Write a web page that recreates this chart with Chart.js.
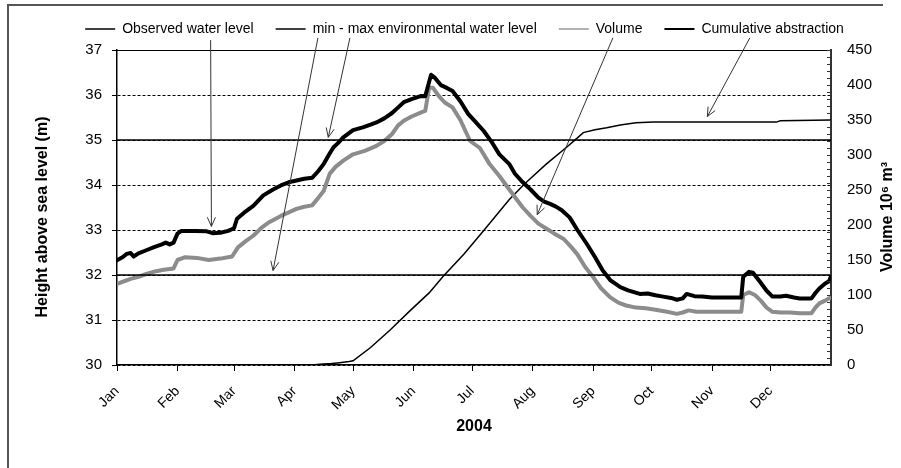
<!DOCTYPE html>
<html><head><meta charset="utf-8">
<script src="https://cdn.jsdelivr.net/npm/chart.js@4.4.0/dist/chart.umd.min.js"></script>
<style>html,body{margin:0;padding:0;background:#fff;}#wrap{width:901px;height:468px;position:relative;}</style>
</head><body><div id="wrap"><canvas id="c" width="901" height="468"></canvas></div>
<script>
// ---- data ----
const yearLabel = '2004';
const daysInYear = 366;
const monthLabels = ['Jan','Feb','Mar','Apr','May','Jun','Jul','Aug','Sep','Oct','Nov','Dec'];
const monthStartDays = [0,31,60,91,121,152,182,213,244,274,305,335];
const levelTicks = [30,31,32,33,34,35,36,37];
const volumeTicks = [0,50,100,150,200,250,300,350,400,450];

const levelDays =   [0,3,5,7,8.5,11,15,19,23,25,27,29,31,33,40,46,49,53,57,60,61.5,65,70,75,80,84,88,92,96,100,103,106,109,111,113,116,121,126,130,133,137,141,144,147,151,156,158,161,163,166,168,172,176,180,184,188,192,196,201,204,208,212,216,219,222,225,228,232,236,240.7,245,249,253,258,262,265,268,272,276,280,284,287,290,292,296,300,305,312,320,321,324,326,329.6,333,336,340,343,347,350,356,358,360,363,365,366];
const levelValues = [32.33,32.40,32.47,32.49,32.41,32.48,32.55,32.62,32.68,32.72,32.68,32.72,32.92,32.98,32.98,32.97,32.93,32.94,32.98,33.04,33.25,33.38,33.54,33.77,33.90,33.99,34.06,34.10,34.14,34.16,34.30,34.47,34.70,34.84,34.92,35.06,35.22,35.28,35.34,35.39,35.48,35.60,35.72,35.84,35.91,35.98,35.97,36.45,36.38,36.22,36.18,36.09,35.86,35.58,35.39,35.20,34.96,34.68,34.47,34.25,34.06,33.90,33.72,33.63,33.58,33.52,33.44,33.28,33.00,32.70,32.40,32.10,31.88,31.73,31.66,31.62,31.58,31.59,31.55,31.52,31.49,31.45,31.48,31.58,31.53,31.52,31.50,31.50,31.50,31.96,32.07,32.05,31.85,31.65,31.52,31.52,31.54,31.50,31.48,31.48,31.60,31.70,31.81,31.86,31.97];

const envLevels = [32, 35];

const volumeDays =   [0,4,7,11,15,20,24,29,31,35,41,47,53,59,62,66,70,74,78,84,92,96,100,103,106,109,112,116,121,127,133,137,141,144,147,151,156,158,160,162,165,168,172,176,181,186,191,196,201,205,208,212,216,220,224,229,233,236,240,244,248,252.7,257,261,266,271,276,282,287,290,293,297,302,310,320,321,324,327,330,333,336,340,345,350,356,358,360,363,366];
const volumeValues = [116,120,123,126,130,134,136,138,150,154,153,150,152,155,168,177,185,196,204,213,223,226,228,238,249,273,283,292,301,306,313,320,330,342,349,355,361,363,396,396,384,375,368,350,320,310,287,270,251,236,225,213,202,195,188,180,168,158,140,126,110,97,89,85,82,81,79,76,73,75,78,76,76,76,76,100,104,100,92,82,76,75,75,74,74,82,88,92,97];

const abstractionDays =   [0,100,104,110,113,119,121,130,140,150,160,167,178,188,201,209,220,230,235,239,245,251,258,266,275,338,340,366];
const abstractionValues = [0,0,1,2,3,5,6,25,50,77,103,126,159,192,236,259,287,310,322,332,336,339,343,346,347,347,349,350];

const seriesNames = ['Observed water level','min - max environmental water level','Volume','Cumulative abstraction'];

// ---- helpers ----
const FONT = "'Liberation Sans', Arial, sans-serif";
const pts = (xs, ys) => xs.map((x, i) => ({x, y: ys[i]}));
const envData = [];
envLevels.forEach((lv, i) => {
  if (i > 0) envData.push({x: daysInYear, y: null});
  envData.push({x: 0, y: lv}, {x: daysInYear, y: lv});
});

// annotation arrows, defined in chart data coordinates (day of year, height on left axis)
const arrowDefs = [
  {from:[48.0,37.22], to:[48.4,33.08]},
  {from:[103.0,37.27], to:[80.0,32.10]},
  {from:[119.4,37.27], to:[108.3,35.06]},
  {from:[254.2,37.27], to:[215.4,33.34]},
  {from:[324.4,37.27], to:[302.6,35.52]}
];

const decorPlugin = {
  id: 'decor',
  afterInit(chart) {
    const lg = chart.legend;
    if (lg) {
      const f = lg.fit.bind(lg);
      lg.fit = function () { f(); this.height += 4; };
    }
  },
  afterDatasetsDraw(chart) {
    const {ctx, chartArea: ca, scales} = chart;
    const xs = scales.x, ys = scales.y, y1 = scales.y1;
    ctx.save();
    ctx.strokeStyle = '#000'; ctx.lineWidth = 1; ctx.setLineDash([]);
    const topY = Math.round(ys.getPixelForValue(levelTicks[levelTicks.length - 1])) + 0.5;
    ctx.beginPath(); ctx.moveTo(ca.left, topY); ctx.lineTo(ca.right, topY); ctx.stroke();
    ctx.strokeStyle = '#333'; ctx.lineWidth = 1;
    for (let v = volumeTicks[0]; v <= volumeTicks[volumeTicks.length - 1]; v += 10) {
      const py = Math.round(y1.getPixelForValue(v)) + 0.5;
      ctx.beginPath(); ctx.moveTo(ca.right - 4, py); ctx.lineTo(ca.right, py); ctx.stroke();
    }
    ctx.strokeStyle = '#333'; ctx.lineWidth = 1;
    arrowDefs.forEach(a => {
      const x0 = xs.getPixelForValue(a.from[0]), yy0 = ys.getPixelForValue(a.from[1]);
      const x1 = xs.getPixelForValue(a.to[0]), yy1 = ys.getPixelForValue(a.to[1]);
      ctx.beginPath(); ctx.moveTo(x0, yy0); ctx.lineTo(x1, yy1); ctx.stroke();
      const ang = Math.atan2(yy1 - yy0, x1 - x0), L = 10, w = 0.42;
      ctx.beginPath();
      ctx.moveTo(x1 - L * Math.cos(ang - w), yy1 - L * Math.sin(ang - w));
      ctx.lineTo(x1, yy1);
      ctx.lineTo(x1 - L * Math.cos(ang + w), yy1 - L * Math.sin(ang + w));
      ctx.stroke();
    });
    ctx.restore();
  },
  afterDraw(chart) {
    const {ctx} = chart;
    ctx.save();
    ctx.fillStyle = '#000';
    ctx.font = "bold 16px " + FONT;
    ctx.textAlign = 'center'; ctx.textBaseline = 'middle';
    ctx.save(); ctx.translate(43, 217); ctx.rotate(-Math.PI / 2);
    ctx.fillText('Height above sea level (m)', 0, 0); ctx.restore();
    ctx.save(); ctx.translate(888, 217); ctx.rotate(-Math.PI / 2);
    ctx.fillText('Volume 10\u2076 m\u00B3', 0, 0); ctx.restore();
    ctx.strokeStyle = '#555'; ctx.lineWidth = 2;
    ctx.beginPath(); ctx.moveTo(883, 5); ctx.lineTo(8, 5); ctx.lineTo(8, 468); ctx.stroke();
    ctx.restore();
  }
};

const legendWidths = [1.5, 1.5, 1.5, 2];

new Chart(document.getElementById('c'), {
  type: 'line',
  data: {
    datasets: [
      {label: seriesNames[0], data: pts(levelDays, levelValues), yAxisID: 'y', borderColor: '#000', borderWidth: 4, pointRadius: 0, borderJoinStyle: 'round', borderCapStyle: 'round'},
      {label: seriesNames[1], data: envData, yAxisID: 'y', borderColor: '#000', borderWidth: 1.5, pointRadius: 0, spanGaps: false},
      {label: seriesNames[2], data: pts(volumeDays, volumeValues), yAxisID: 'y1', borderColor: '#8c8c8c', borderWidth: 4, pointRadius: 0, borderJoinStyle: 'round', borderCapStyle: 'round'},
      {label: seriesNames[3], data: pts(abstractionDays, abstractionValues), yAxisID: 'y1', borderColor: '#000', borderWidth: 1.5, pointRadius: 0}
    ]
  },
  options: {
    responsive: false, animation: false, devicePixelRatio: 1,
    layout: {padding: {left: 28, right: 0, top: 0, bottom: 0}},
    plugins: {
      tooltip: {enabled: false},
      legend: {
        position: 'top',
        labels: {
          usePointStyle: true, pointStyleWidth: 30, padding: 22, color: '#000',
          font: {family: FONT, size: 14},
          generateLabels(chart) {
            const items = Chart.defaults.plugins.legend.labels.generateLabels(chart);
            items.forEach((it, i) => { it.pointStyle = 'line'; it.lineWidth = legendWidths[i]; it.strokeStyle = i === 2 ? '#999' : '#000'; });
            return items;
          }
        }
      }
    },
    scales: {
      x: {
        type: 'linear', min: 0, max: daysInYear,
        afterBuildTicks: s => { s.ticks = monthStartDays.map(v => ({value: v})); },
        afterFit: s => { s.height = 103; },
        ticks: {
          autoSkip: false, minRotation: 45, maxRotation: 45, padding: 12, color: '#000',
          font: {family: FONT, size: 14},
          callback: v => monthLabels[monthStartDays.indexOf(v)]
        },
        grid: {drawOnChartArea: false, tickLength: 6, color: '#000', lineWidth: 1},
        border: {color: '#000', width: 1.5},
        title: {display: true, text: yearLabel, color: '#000', font: {family: FONT, size: 16, weight: 'bold'}, padding: {top: 0, bottom: 32}}
      },
      y: {
        position: 'left', min: levelTicks[0], max: levelTicks[levelTicks.length - 1],
        afterBuildTicks: s => { s.ticks = levelTicks.map(v => ({value: v})); },
        afterFit: s => { s.width = 89; },
        ticks: {padding: 10, color: '#000', font: {family: FONT, size: 15}},
        grid: {color: '#000', lineWidth: 1, tickLength: 5, tickBorderDash: [], drawOnChartArea: true},
        border: {color: '#000', width: 1.5, dash: [3, 2]}
      },
      y1: {
        position: 'right', min: volumeTicks[0], max: volumeTicks[volumeTicks.length - 1],
        afterBuildTicks: s => { s.ticks = volumeTicks.map(v => ({value: v})); },
        afterFit: s => { s.width = 70; },
        ticks: {padding: 16, color: '#000', font: {family: FONT, size: 15}},
        grid: {drawOnChartArea: false, drawTicks: false},
        border: {color: '#333', width: 2}
      }
    }
  },
  plugins: [decorPlugin]
});
</script></body></html>
